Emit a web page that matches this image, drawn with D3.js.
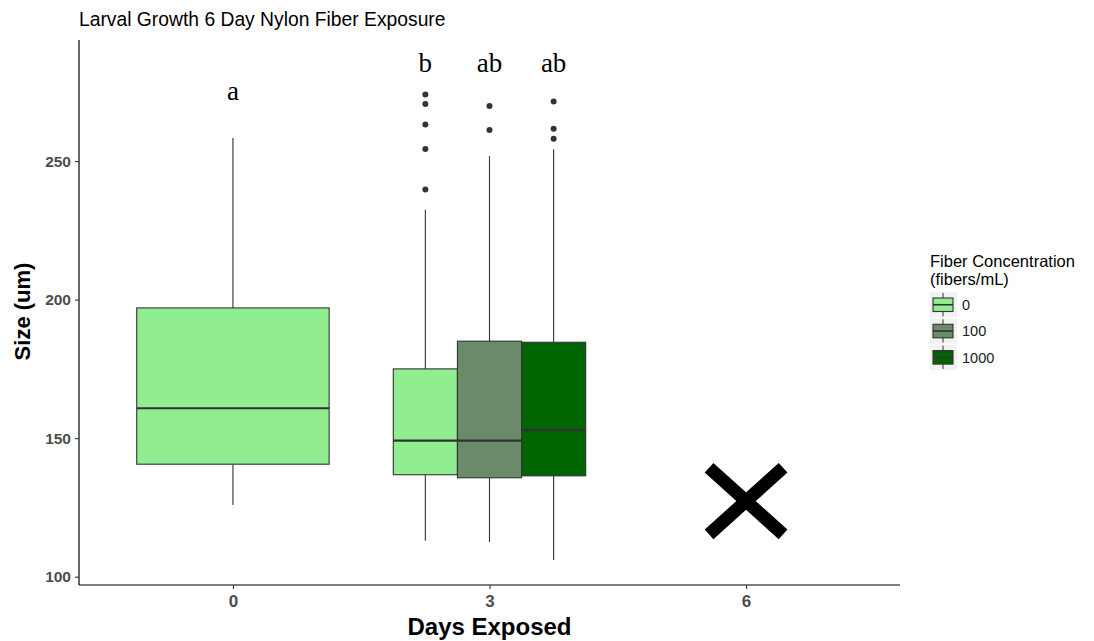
<!DOCTYPE html>
<html>
<head>
<meta charset="utf-8">
<script src="https://cdn.jsdelivr.net/npm/d3@7"></script>
<style>
  body { margin: 0; background: #fff; }
  svg { display: block; font-family: "Liberation Sans", Arial, sans-serif; }
</style>
</head>
<body>
<div id="chart"></div>
<script>
// data
const days = ['0', '3', '6']
const fibers = ['0', '100', '1000']
const fiberColors = ['#90EE90', '#698B69', '#006400']
const yTicks = [100, 150, 200, 250]

const boxDay = ['0', '3', '3', '3']
const boxFiber = ['0', '0', '100', '1000']
const whiskerLow = [125.9, 113.0, 112.5, 106.0]
const q1 = [140.6, 136.8, 135.7, 136.4]
const medians = [160.8, 149.1, 149.1, 152.9]
const q3 = [197.0, 175.0, 185.0, 184.6]
const whiskerHigh = [258.3, 232.4, 251.8, 254.3]
const outliers = [
    [],
    [274.0, 270.6, 263.2, 254.4, 239.7],
    [269.9, 261.2],
    [271.5, 261.7, 258.1]
]
const letters = ['a', 'b', 'ab', 'ab']
const letterY = [272.1, 282.3, 282.3, 282.3]

const missingDay = '6'
const missingValue = 127.3

const width = 1094, height = 641
const plot = { left: 79, right: 900, top: 40, bottom: 585 }

const svg = d3.select('#chart').append('svg')
    .attr('width', width)
    .attr('height', height)

const x = d3.scalePoint().domain(days).range([plot.left, plot.right]).padding(0.6)
const y = d3.scaleLinear().domain([97.0, 293.7]).range([plot.bottom, plot.top])
const boxWidth = x.step() * 0.75
const dodge = d3.scaleBand().domain(fibers).range([-boxWidth / 2, boxWidth / 2])
const color = d3.scaleOrdinal().domain(fibers).range(fiberColors)

// count how many boxes share a day, to know whether to dodge
const perDay = d3.rollup(boxDay, v => v.length, d => d)

const boxes = boxDay.map((d, i) => {
    let cx, w
    if (perDay.get(d) > 1) {
        cx = x(d) + dodge(boxFiber[i]) + dodge.bandwidth() / 2
        w = dodge.bandwidth()
    } else {
        cx = x(d)
        w = boxWidth
    }
    return { i, cx, w, fiber: boxFiber[i] }
})

// whiskers
const g = svg.append('g')
boxes.forEach(b => {
    g.append('line')
        .attr('x1', b.cx).attr('x2', b.cx)
        .attr('y1', y(whiskerHigh[b.i])).attr('y2', y(q3[b.i]))
        .attr('stroke', '#333').attr('stroke-width', 1.1)
    g.append('line')
        .attr('x1', b.cx).attr('x2', b.cx)
        .attr('y1', y(q1[b.i])).attr('y2', y(whiskerLow[b.i]))
        .attr('stroke', '#333').attr('stroke-width', 1.1)
})

// boxes
boxes.forEach(b => {
    g.append('rect')
        .attr('x', b.cx - b.w / 2)
        .attr('y', y(q3[b.i]))
        .attr('width', b.w)
        .attr('height', y(q1[b.i]) - y(q3[b.i]))
        .attr('fill', color(b.fiber))
        .attr('stroke', '#333')
        .attr('stroke-width', 1.1)
})
boxes.forEach(b => {
    g.append('line')
        .attr('x1', b.cx - b.w / 2).attr('x2', b.cx + b.w / 2)
        .attr('y1', y(medians[b.i])).attr('y2', y(medians[b.i]))
        .attr('stroke', '#333').attr('stroke-width', 2.2)
})

// outliers
boxes.forEach(b => {
    g.selectAll(null)
        .data(outliers[b.i])
        .enter().append('circle')
        .attr('cx', b.cx)
        .attr('cy', d => y(d))
        .attr('r', 3)
        .attr('fill', '#333')
})

// significance letters
boxes.forEach(b => {
    g.append('text')
        .attr('x', b.cx)
        .attr('y', y(letterY[b.i]))
        .attr('text-anchor', 'middle')
        .style('font-family', '"Liberation Serif", "Times New Roman", serif')
        .style('font-size', '27px')
        .attr('fill', '#000')
        .text(letters[b.i])
})

// missing group marker (X)
const mx = x(missingDay), my = y(missingValue), arm = 37
g.append('line')
    .attr('x1', mx - arm).attr('y1', my - arm * 0.9)
    .attr('x2', mx + arm).attr('y2', my + arm * 0.9)
    .attr('stroke', '#000').attr('stroke-width', 13)
g.append('line')
    .attr('x1', mx - arm).attr('y1', my + arm * 0.9)
    .attr('x2', mx + arm).attr('y2', my - arm * 0.9)
    .attr('stroke', '#000').attr('stroke-width', 13)

// axes
const yAxis = svg.append('g')
    .attr('transform', `translate(${plot.left},0)`)
    .call(d3.axisLeft(y).tickValues(yTicks).tickSize(4).tickPadding(4))
yAxis.select('.domain').attr('stroke', '#000').attr('stroke-width', 1.2)
    .attr('d', `M0,${plot.top}V${plot.bottom}`)
yAxis.selectAll('.tick line').attr('stroke', '#333').attr('stroke-width', 1.1)
yAxis.selectAll('.tick text')
    .style('font-family', '"Liberation Sans", Arial, sans-serif')
    .style('font-size', '15.5px').style('font-weight', 'bold')
    .attr('fill', '#4d4d4d')

const xAxis = svg.append('g')
    .attr('transform', `translate(0,${plot.bottom})`)
    .call(d3.axisBottom(x).tickSize(4).tickPadding(6))
xAxis.select('.domain').attr('stroke', '#000').attr('stroke-width', 1.2)
    .attr('d', `M${plot.left},0H${plot.right}`)
xAxis.selectAll('.tick line').attr('stroke', '#333').attr('stroke-width', 1.1)
xAxis.selectAll('.tick text')
    .style('font-family', '"Liberation Sans", Arial, sans-serif')
    .style('font-size', '17px').style('font-weight', 'bold')
    .attr('fill', '#4d4d4d')

// titles
svg.append('text')
    .attr('x', 79).attr('y', 26)
    .style('font-size', '19.3px')
    .attr('fill', '#000')
    .text('Larval Growth 6 Day Nylon Fiber Exposure')

svg.append('text')
    .attr('x', (plot.left + plot.right) / 2).attr('y', 635)
    .attr('text-anchor', 'middle')
    .style('font-size', '24px').style('font-weight', 'bold')
    .attr('fill', '#000')
    .text('Days Exposed')

svg.append('text')
    .attr('transform', `translate(30,${(plot.top + plot.bottom) / 2 - 1}) rotate(-90)`)
    .attr('text-anchor', 'middle')
    .style('font-size', '22px').style('font-weight', 'bold')
    .attr('fill', '#000')
    .text('Size (um)')

// legend
const legend = svg.append('g').attr('transform', 'translate(930,0)')
legend.append('text').attr('x', 0).attr('y', 267)
    .style('font-size', '16.5px').attr('fill', '#000').text('Fiber Concentration')
legend.append('text').attr('x', 0).attr('y', 284.5)
    .style('font-size', '16.5px').attr('fill', '#000').text('(fibers/mL)')

const keyH = 26.3, keyW = 27
fibers.forEach((f, i) => {
    const ky = 292 + i * keyH
    const kg = legend.append('g').attr('transform', `translate(0,${ky})`)
    kg.append('rect').attr('x', 0).attr('y', 0).attr('width', keyW).attr('height', keyH - 1)
        .attr('fill', '#f2f2f2')
    kg.append('line').attr('x1', keyW / 2 - 0.5).attr('x2', keyW / 2 - 0.5)
        .attr('y1', 1).attr('y2', keyH - 2)
        .attr('stroke', '#333').attr('stroke-width', 1)
    kg.append('rect').attr('x', 3).attr('y', 6).attr('width', keyW - 7).attr('height', 13.5)
        .attr('fill', color(f)).attr('stroke', '#333').attr('stroke-width', 1.1)
    kg.append('line').attr('x1', 3).attr('x2', keyW - 4)
        .attr('y1', 12.75).attr('y2', 12.75)
        .attr('stroke', '#333').attr('stroke-width', 1.6)
    kg.append('text').attr('x', keyW + 5).attr('y', keyH / 2 + 5)
        .style('font-size', '14.5px').attr('fill', '#1a1a1a').text(f)
})
</script>
</body>
</html>
